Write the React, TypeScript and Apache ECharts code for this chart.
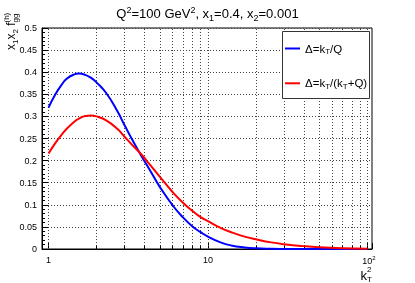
import React, { useEffect, useRef } from 'react';
import * as echarts from 'echarts';

// k_T^2 sample points (log axis)
const kt2 = [1.0, 1.1, 1.2, 1.3, 1.45, 1.55, 1.7, 1.85, 2.0, 2.3, 2.7, 3.0, 3.4, 3.8, 4.3, 5, 6, 7, 8, 9, 10, 12, 14, 17, 20, 25, 30, 40, 50, 70, 100];
// Δ = k_T / Q
const fggBlue = [0.320, 0.349, 0.370, 0.385, 0.395, 0.397, 0.394, 0.387, 0.377, 0.353, 0.312, 0.280, 0.243, 0.212, 0.180, 0.140, 0.099, 0.071, 0.051, 0.038, 0.028, 0.015, 0.008, 0.0035, 0.0015, 0.0005, 0.0002, 0, 0, 0, 0];
// Δ = k_T / (k_T + Q)
const fggRed = [0.216, 0.239, 0.257, 0.272, 0.288, 0.295, 0.301, 0.302, 0.300, 0.291, 0.272, 0.254, 0.233, 0.215, 0.192, 0.163, 0.129, 0.104, 0.086, 0.072, 0.063, 0.048, 0.038, 0.028, 0.022, 0.015, 0.011, 0.0065, 0.004, 0.0018, 0.0007];

const seriesNames = ['Δ=kT/Q', 'Δ=kT/(kT+Q)'];
const seriesColors = ['#0000ff', '#ff0000'];
const gridK = [1, 2, 3, 4, 5, 6, 7, 8, 9, 10, 20, 30, 40, 50, 60, 70, 80, 90, 100];
const minorK = [2, 3, 4, 5, 6, 7, 8, 9, 20, 30, 40, 50, 60, 70, 80, 90];
const xMin = 0.91;
const xMax = 107;
const yMin = 0;
const yMax = 0.5;
const yStep = 0.05;

const FONT = '"Liberation Sans", Arial, Helvetica, sans-serif';

export default function App() {
  const ref = useRef<HTMLDivElement>(null);
  useEffect(() => {
    const chart = echarts.init(ref.current!, null, { renderer: 'svg' });
    const pairs = (ys: number[]) => kt2.map((k, i) => [k, ys[i]]);
    const rich = (main: number, small: number, lh: number) => ({
      m: { fontSize: main, lineHeight: lh, fontFamily: FONT, color: '#000' },
      sp: { fontSize: small, lineHeight: small, verticalAlign: 'top', fontFamily: FONT, color: '#000' },
      sb: { fontSize: small, lineHeight: small, verticalAlign: 'bottom', fontFamily: FONT, color: '#000' },
    });
    const legendRich: Record<string, string> = {
      [seriesNames[0]]: '{m|Δ=k}{sb|T}{m|/Q}',
      [seriesNames[1]]: '{m|Δ=k}{sb|T}{m|/(k}{sb|T}{m|+Q)}',
    };
    chart.setOption({
      animation: false,
      title: {
        text: '{m|Q}{sp|2}{m|=100 GeV}{sp|2}{m|, x}{sb|1}{m|=0.4, x}{sb|2}{m|=0.001}',
        left: 'center',
        top: 5,
        padding: 0,
        textStyle: { fontFamily: FONT, fontWeight: 'normal', fontSize: 13, rich: rich(13, 9, 17) },
      },
      grid: { left: 42, right: 43, top: 28, bottom: 34, show: true, borderColor: '#000', borderWidth: 1, backgroundColor: 'transparent' },
      legend: {
        data: seriesNames,
        orient: 'vertical',
        left: 285,
        top: 42.5,
        padding: 0,
        itemGap: 21.8,
        itemWidth: 15,
        itemHeight: 2,
        icon: 'rect',
        z: 60,
        formatter: (name: string) => legendRich[name] || name,
        textStyle: { fontFamily: FONT, fontSize: 11.5, color: '#000', rich: rich(11.5, 8, 14) },
      },
      xAxis: {
        type: 'log',
        logBase: 10,
        min: xMin,
        max: xMax,
        axisLine: { show: true, lineStyle: { color: '#000', width: 1 } },
        axisTick: { show: true, inside: true, length: 6, lineStyle: { color: '#000' } },
        splitLine: { show: false },
        axisLabel: {
          margin: 6,
          fontFamily: FONT,
          fontSize: 9,
          color: '#000',
          formatter: (v: number) => {
            if (Math.abs(v - 1) < 1e-6) return '1';
            if (Math.abs(v - 10) < 1e-5) return '10';
            if (Math.abs(v - 100) < 1e-4) return '{b|10}{s|2}';
            return '';
          },
          rich: {
            b: { fontSize: 9, fontFamily: FONT, color: '#000', lineHeight: 11, padding: [0, 0, 0, 3.4] },
            s: { fontSize: 6, fontFamily: FONT, color: '#000', lineHeight: 6, verticalAlign: 'top' },
          },
        },
      },
      yAxis: {
        type: 'value',
        min: yMin,
        max: yMax,
        interval: yStep,
        axisLine: { show: true, lineStyle: { color: '#000', width: 1 } },
        axisTick: { show: true, inside: true, length: 6, lineStyle: { color: '#000' } },
        minorTick: { show: true, splitNumber: 5, length: 3, lineStyle: { color: '#000' } },
        splitLine: { show: true, lineStyle: { color: '#444', width: 1, type: [1, 2] } },
        axisLabel: { margin: 5, fontFamily: FONT, fontSize: 9, color: '#000' },
      },
      graphic: {
        elements: [
          {
            type: 'rect',
            z: 50,
            zlevel: 0,
            shape: { x: 282.5, y: 31.5, width: 87, height: 67 },
            style: { fill: '#fff', stroke: '#333', lineWidth: 1 },
          },
          {
            type: 'text',
            x: 11,
            y: 50,
            rotation: Math.PI / 2,
            style: {
              text: '{m|x}{sb|1}{m|x}{sb|2}{m| f}{sb|gg}',
              align: 'left',
              verticalAlign: 'middle',
              rich: rich(12, 8, 16),
            },
          },
          {
            type: 'text',
            x: 6,
            y: 22.5,
            rotation: Math.PI / 2,
            style: { text: '(h)', align: 'left', verticalAlign: 'middle', fontFamily: FONT, fontSize: 8, fill: '#000' },
          },
          {
            type: 'text',
            x: 360.5,
            y: 275.5,
            style: { text: 'k', align: 'left', verticalAlign: 'middle', fontFamily: FONT, fontSize: 13, fill: '#000' },
          },
          {
            type: 'text',
            x: 367,
            y: 269.5,
            style: { text: '2', align: 'left', verticalAlign: 'middle', fontFamily: FONT, fontSize: 8, fill: '#000' },
          },
          {
            type: 'text',
            x: 367,
            y: 279,
            style: { text: 'T', align: 'left', verticalAlign: 'middle', fontFamily: FONT, fontSize: 8, fill: '#000' },
          },
        ],
      },
      series: [
        {
          name: 'grid-helper',
          type: 'line',
          data: [],
          z: 1,
          silent: true,
          markLine: {
            silent: true,
            z: 1,
            symbol: ['none', 'none'],
            label: { show: false },
            emphasis: { disabled: true },
            lineStyle: { color: '#444', width: 1, type: [1, 2] },
            data: gridK.map((k) => ({ xAxis: k })),
          },
        },
        {
          name: 'tick-helper',
          type: 'line',
          data: [],
          z: 1,
          silent: true,
          markLine: {
            silent: true,
            z: 1,
            symbol: ['none', 'none'],
            label: { show: false },
            emphasis: { disabled: true },
            lineStyle: { color: '#000', width: 1, type: 'solid' },
            data: minorK.map((k) => [{ coord: [k, 0] }, { coord: [k, 0.007] }]),
          },
        },
        {
          name: seriesNames[0],
          type: 'line',
          data: pairs(fggBlue),
          color: seriesColors[0],
          showSymbol: false,
          symbol: 'none',
          smooth: 0.5,
          z: 3,
          lineStyle: { width: 2, color: seriesColors[0] },
        },
        {
          name: seriesNames[1],
          type: 'line',
          data: pairs(fggRed),
          color: seriesColors[1],
          showSymbol: false,
          symbol: 'none',
          smooth: 0.5,
          z: 3,
          lineStyle: { width: 2, color: seriesColors[1] },
        },
      ],
    });
    return () => chart.dispose();
  }, []);
  return <div ref={ref} style={{ position: 'fixed', left: 0, top: 0, width: 415, height: 283 }} />;
}
